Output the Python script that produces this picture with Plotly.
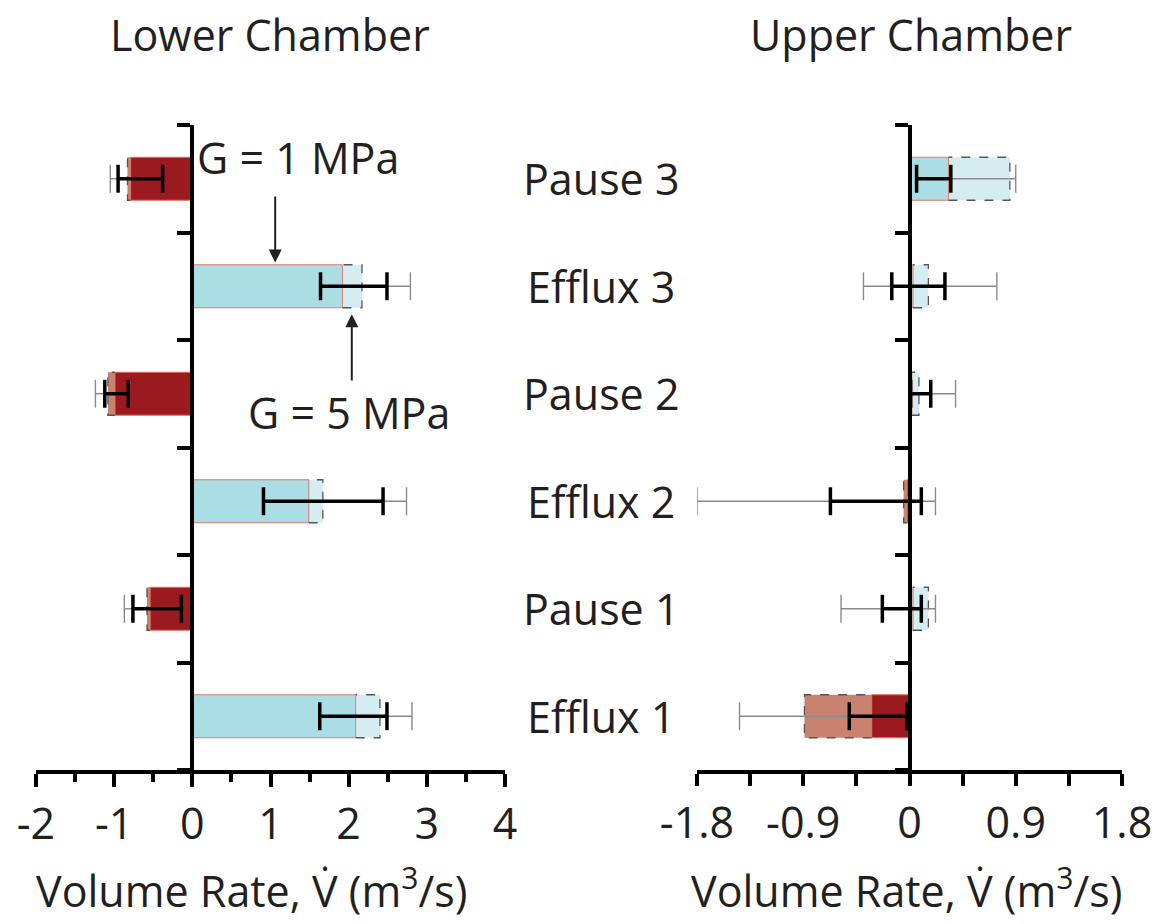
import plotly.graph_objects as go

# ---------------- data ----------------
categories = ["Efflux 1", "Pause 1", "Efflux 2", "Pause 2", "Efflux 3", "Pause 3"]  # bottom -> top

# Lower chamber (m^3/s)
lower_g1 = [2.09, -0.54, 1.49, -0.99, 1.92, -0.79]      # G = 1 MPa
lower_g5 = [2.40, -0.58, 1.67, -1.08, 2.17, -0.83]      # G = 5 MPa
lower_err1_lo = [1.63, -0.76, 0.91, -1.12, 1.64, -0.95]
lower_err1_hi = [2.49, -0.14, 2.44, -0.82, 2.49, -0.38]
lower_err5_lo = [None, -0.87, None, -1.24, None, -1.05]
lower_err5_hi = [2.81, None, 2.74, None, 2.79, None]

# Upper chamber (m^3/s)
upper_g1 = [-0.32, 0.03, -0.02, 0.02, 0.03, 0.33]
upper_g5 = [-0.89, 0.16, -0.05, 0.08, 0.16, 0.85]
upper_err1_lo = [-0.51, -0.23, -0.67, 0.01, -0.15, 0.06]
upper_err1_hi = [-0.02, 0.10, 0.10, 0.18, 0.30, 0.35]
upper_err5_lo = [-1.44, -0.58, -1.80, None, -0.39, None]
upper_err5_hi = [None, 0.22, 0.22, 0.39, 0.74, 0.90]

lower_tickvals = [-2, -1, 0, 1, 2, 3, 4]
lower_ticktext = ["-2", "-1", "0", "1", "2", "3", "4"]
lower_minor = [-1.5, -0.5, 0.5, 1.5, 2.5, 3.5]
upper_tickvals = [-1.8, -0.9, 0, 0.9, 1.8]
upper_ticktext = ["-1.8", "-0.9", "0", "0.9", "1.8"]
upper_minor = [-1.35, -0.45, 0.45, 1.35]

# ---------------- style ----------------
FONT = "Open Sans"
TXT = "#231f20"
FS = 43
G1_POS, G1_NEG = "#abdde4", "#9b1a1f"
G5_POS, G5_NEG = "#d5edf1", "#c9826f"
OUTLINE = "#e07b66"
BAR_W = 0.4
CAP = 0.13

# figure size leaves room for the page's 8px body margin
W, H = 1144, 908
OFF = 8


def px(x):  # reference page pixel -> paper fraction
    return (x - OFF) / W


def py(y):
    return 1 - (y - OFF) / H


ypos = list(range(len(categories)))
fig = go.Figure()


def colors(vals, pos, neg):
    return [pos if v >= 0 else neg for v in vals]


def add_panel(g1, g5, e1lo, e1hi, e5lo, e5hi, xa, ya):
    fig.add_trace(go.Bar(y=ypos, x=g5, orientation="h", width=BAR_W,
                         marker=dict(color=colors(g5, G5_POS, G5_NEG), line=dict(width=0)),
                         xaxis=xa, yaxis=ya, hoverinfo="skip", showlegend=False))
    fig.add_trace(go.Bar(y=ypos, x=g1, orientation="h", width=BAR_W,
                         marker=dict(color=colors(g1, G1_POS, G1_NEG), line=dict(width=1, color=OUTLINE)),
                         xaxis=xa, yaxis=ya, hoverinfo="skip", showlegend=False))
    # dashed outline of the G = 5 MPa bars (exposed part)
    ox, oy = [], []
    h = BAR_W / 2
    for i, (a, b) in enumerate(zip(g1, g5)):
        if a * b > 0 and abs(a) < abs(b):
            ox += [a, b, b, a, None]
            oy += [i - h, i - h, i + h, i + h, None]
        else:
            ox += [0, b, b, 0, 0, None]
            oy += [i - h, i - h, i + h, i + h, i - h, None]
    fig.add_trace(go.Scatter(x=ox, y=oy, mode="lines", line=dict(color="#555555", width=1.3, dash="dash"),
                             xaxis=xa, yaxis=ya, hoverinfo="skip", showlegend=False))
    # thin grey error bars (G = 5 MPa)
    gx, gy = [], []
    for i, (lo, hi, a) in enumerate(zip(e5lo, e5hi, g1)):
        l = lo if lo is not None else a
        r = hi if hi is not None else a
        gx += [l, r, None]
        gy += [i, i, None]
        for end in (lo, hi):
            if end is not None:
                gx += [end, end, None]
                gy += [i - CAP, i + CAP, None]
    fig.add_trace(go.Scatter(x=gx, y=gy, mode="lines", line=dict(color="#8a8a8a", width=1.4),
                             xaxis=xa, yaxis=ya, hoverinfo="skip", showlegend=False))
    # thick black error bars (G = 1 MPa)
    bx, by = [], []
    for i, (lo, hi) in enumerate(zip(e1lo, e1hi)):
        bx += [lo, hi, None, lo, lo, None, hi, hi, None]
        by += [i, i, None, i - CAP, i + CAP, None, i - CAP, i + CAP, None]
    fig.add_trace(go.Scatter(x=bx, y=by, mode="lines", line=dict(color="#000000", width=3.5),
                             xaxis=xa, yaxis=ya, hoverinfo="skip", showlegend=False))


add_panel(lower_g1, lower_g5, lower_err1_lo, lower_err1_hi, lower_err5_lo, lower_err5_hi, "x", "y")
add_panel(upper_g1, upper_g5, upper_err1_lo, upper_err1_hi, upper_err5_lo, upper_err5_hi, "x2", "y2")

ydom = [py(770), py(125)]
tickfont = dict(family=FONT, size=FS, color=TXT)

xcommon = dict(showline=True, linewidth=4, linecolor="black", ticks="outside", tickwidth=4,
               tickcolor="black", showgrid=False, zeroline=False, tickmode="array",
               tickfont=tickfont, ticklabelstandoff=0, ticklabeloverflow="allow",
               fixedrange=True, automargin=False)
ycommon = dict(range=[-0.5, 5.5], domain=ydom, showline=True, linewidth=4, linecolor="black",
               ticks="outside", ticklen=13, tickwidth=4, tickcolor="black", tickmode="array",
               tickvals=[-0.5, 0.5, 1.5, 2.5, 3.5, 4.5, 5.5], showticklabels=False,
               showgrid=False, zeroline=False, anchor="free", fixedrange=True, automargin=False)

fig.update_layout(
    template="none",
    width=W, height=H, margin=dict(l=0, r=0, t=0, b=0, pad=0),
    paper_bgcolor="white", plot_bgcolor="white", barmode="overlay", showlegend=False,
    font=dict(family=FONT, color=TXT),
    xaxis=dict(xcommon, domain=[px(36), px(505)], range=[-2, 4], anchor="y",
               tickvals=lower_tickvals, ticktext=lower_ticktext, ticklen=13,
               minor=dict(tickvals=lower_minor, ticks="outside", ticklen=8, tickwidth=4,
                          tickcolor="black", showgrid=False)),
    yaxis=dict(ycommon, position=px(192)),
    xaxis2=dict(xcommon, domain=[px(697), px(1122)], range=[-1.8, 1.8], anchor="y2",
                tickvals=upper_tickvals, ticktext=upper_ticktext, ticklen=12,
                minor=dict(tickvals=upper_minor, ticks="outside", ticklen=12, tickwidth=4,
                           tickcolor="black", showgrid=False)),
    yaxis2=dict(ycommon, position=px(909.5)),
)

big = dict(family=FONT, size=FS, color=TXT)
center = dict(xanchor="center", yanchor="middle", showarrow=False, font=big)
# titles
fig.add_annotation(text="Lower Chamber", x=px(270), y=py(35), xref="paper", yref="paper", **center)
fig.add_annotation(text="Upper Chamber", x=px(911), y=py(35), xref="paper", yref="paper", **center)
axis_title = "Volume Rate, V\u0307 (m<sup>3</sup>/s)"
fig.add_annotation(text=axis_title, x=px(252), y=py(888), xref="paper", yref="paper", **center)
fig.add_annotation(text=axis_title, x=px(907), y=py(888), xref="paper", yref="paper", **center)
# category labels
for i, c in enumerate(categories):
    fig.add_annotation(text=c, x=px(601), y=i, xref="paper", yref="y", **center)

# G labels and arrows
fig.add_annotation(text="G = 1 MPa", x=1.35, y=5.2, xref="x", yref="y", **center)
fig.add_annotation(text="", x=1.06, y=4.22, ax=1.06, ay=4.85, xref="x", yref="y", axref="x", ayref="y",
                   showarrow=True, arrowhead=2, arrowsize=1.3, arrowwidth=2, arrowcolor=TXT)
fig.add_annotation(text="G = 5 MPa", x=2.0, y=2.83, xref="x", yref="y", **center)
fig.add_annotation(text="", x=2.04, y=3.74, ax=2.04, ay=3.11, xref="x", yref="y", axref="x", ayref="y",
                   showarrow=True, arrowhead=2, arrowsize=1.3, arrowwidth=2, arrowcolor=TXT)

fig.write_html("out.html")
